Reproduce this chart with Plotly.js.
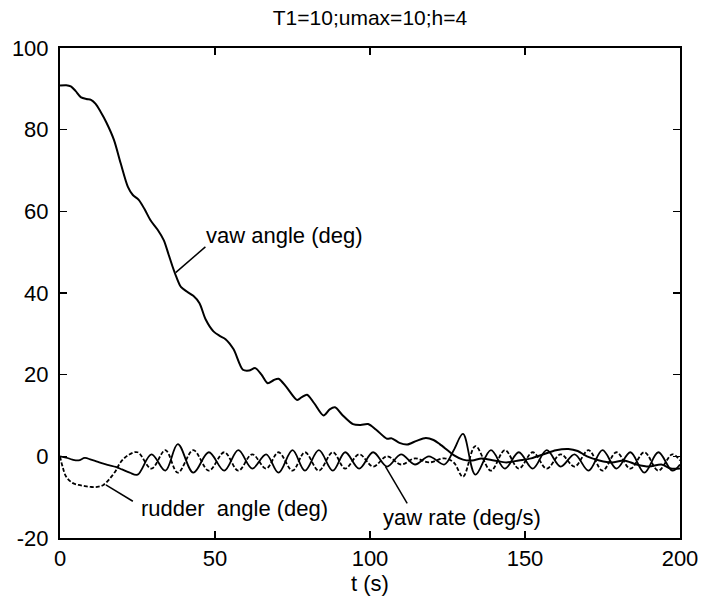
<!DOCTYPE html>
<html>
<head>
<meta charset="utf-8">
<script src="https://cdn.plot.ly/plotly-3.0.1.min.js"></script>
<style>html,body{margin:0;padding:0;background:#fff;}#chart{width:721px;height:601px;}</style>
</head>
<body>
<div id="chart"></div>
<script>
// ---- data ----
const chartTitle = "T1=10;umax=10;h=4";
const xTitle = "t (s)";
const xTicks = [0, 50, 100, 150, 200];
const yTicks = [-20, 0, 20, 40, 60, 80, 100];

const yawT = [0,2,3.5,5,6.8,8.5,10,11.5,13,15,17.4,19.6,21.9,23.5,25.4,27.3,29.2,31.5,33.5,35,36.3,37.5,39,41,43,45,47,49.5,51.5,53.4,56,59,61,63,65,67,69,70.5,73,76.5,78,79.7,82,85,87,88.7,91,94.5,97,99.4,102,105.5,107,109.5,112,115,118,120.5,122.5,125,127,130,133,136,140,144,148,152,156,160,164,167,170,174,178,182,186,190,194,197,200];
const yawAngle = [90.8,90.9,90.6,89.5,87.9,87.5,87.3,86.3,84.5,81.7,77.5,71.7,66,64,62.8,60.5,57.8,55.5,52.9,49.5,46.5,44,41.5,40.3,39.3,37.5,33.5,30.6,29.5,28.7,26.2,21.2,21,21.6,20,17.9,18.7,19,17,13.8,14.5,15.1,13,10,11.5,12,10.2,7.9,7.7,7.9,6.5,4.3,4.4,3.3,2.9,3.8,4.5,4,3,1.5,0.3,-0.8,-1,-0.5,-1,-1.5,-1,-0.5,0.5,1.5,1.8,1.3,0,-1,-1.5,-1,-2,-2.5,-2,-3,-3];

const rateT = [0,2,4,6,8,10,12,14,16,18,20,22.5,25,29.5,34,38,43,48,53,57.5,62,66.5,70.5,75,79,83.5,88,92,96.5,101,105.5,110,114.5,119,124,127,130,134,139,143.5,148,152.5,157,161.5,166,170.5,175,179.5,184,188.5,193,197.5,200];
const yawRate = [0,-0.3,-0.8,-1.0,-0.4,-0.8,-1.3,-1.8,-2.2,-2.6,-3.2,-4,-4.5,0.5,-3.5,3,-4,1,-3.5,1.5,-3,0.5,-4,1.5,-3.5,1.5,-3.5,1,-3,1,-2.5,0.5,-2,0,-2,1.5,5.5,-4.5,1.5,-3,1,-3,1.5,-2.5,0.5,-3.5,1.5,-3,1,-4,1,-3.5,-2];

const rudderT = [0,1,2,4,6,8,10,12,14,16,18,19.5,22,25,29.5,34,38,43,48,53,57.5,62,66.5,70.5,75,79,83.5,88,92,96.5,101,105.5,110,114.5,119,124,127,130,134,139,143.5,148,152.5,157,161.5,166,170.5,175,179.5,184,188.5,193,197.5,200];
const rudderAngle = [0,-3,-5,-6.5,-7,-7.3,-7.5,-7.5,-7,-5.5,-3.5,-1.5,0.3,1,-3,1.5,-4,1.5,-3.5,1,-3.5,0.5,-3,1,-3.5,1,-3.5,1,-3,0.5,-2.5,0,-2,-0.5,-1.5,-0.5,-1.5,-5,2.5,-3.5,1.5,-3,1,-3,0.5,-2.5,1.5,-3.5,1,-3,1,-3.5,0.5,-1];

// labels: text, text position, leader line ends
const labelText = ["vaw angle (deg)", "rudder\u00a0 angle (deg)", "yaw rate (deg/s)"];
const labelX = [46.5, 25.5, 103.5];
const labelY = [54, -12.8, -15];
const leadFromX = [46.9, 23.5, 112];
const leadFromY = [51.3, -11, -11.5];
const leadToX = [37.3, 14.8, 105];
const leadToY = [45, -7, -2.5];

// ---- chart ----
const FONT = "Liberation Sans, Arial, Helvetica, sans-serif";
const traces = [
  {x: yawT, y: yawAngle, mode: "lines", line: {color: "#000", width: 2, shape: "spline", smoothing: 0.8}, hoverinfo: "skip"},
  {x: rateT, y: yawRate, mode: "lines", line: {color: "#000", width: 1.8, shape: "spline", smoothing: 1}, hoverinfo: "skip"},
  {x: rudderT, y: rudderAngle, mode: "lines", line: {color: "#000", width: 1.8, dash: "4px,2px", shape: "spline", smoothing: 1}, hoverinfo: "skip"}
];

const annotations = labelText.map((t, i) => ({
  text: t, x: labelX[i], y: labelY[i], xref: "x", yref: "y",
  xanchor: "left", yanchor: "middle", showarrow: false,
  font: {family: FONT, size: 22, color: "#000"}
}));
const shapes = labelText.map((t, i) => ({
  type: "line", xref: "x", yref: "y",
  x0: leadFromX[i], y0: leadFromY[i], x1: leadToX[i], y1: leadToY[i],
  line: {color: "#000", width: 1.5}
}));

const axisCommon = {
  showline: true, linecolor: "#000", linewidth: 2, mirror: "ticks",
  ticks: "inside", ticklen: 7, tickwidth: 1.5, tickcolor: "#000",
  showgrid: false, zeroline: false,
  tickfont: {family: FONT, size: 22, color: "#000"}
};

const layout = {
  width: 721, height: 601,
  margin: {l: 60, r: 41, t: 48, b: 63},
  paper_bgcolor: "#fff", plot_bgcolor: "#fff",
  showlegend: false,
  title: {text: chartTitle, font: {family: FONT, size: 21, color: "#000"},
          xref: "paper", x: 0.5, xanchor: "center", yref: "container", y: 0.97, yanchor: "middle"},
  xaxis: Object.assign({}, axisCommon, {range: [0, 200], tickvals: xTicks, ticktext: xTicks.map(String),
          title: {text: xTitle, font: {family: FONT, size: 22, color: "#000"}, standoff: 2}}),
  yaxis: Object.assign({}, axisCommon, {range: [-20, 100], tickvals: yTicks, ticktext: yTicks.map(String),
          ticklabelstandoff: 5}),
  annotations: annotations,
  shapes: shapes
};

Plotly.newPlot("chart", traces, layout, {staticPlot: true, displayModeBar: false});
</script>
</body>
</html>
